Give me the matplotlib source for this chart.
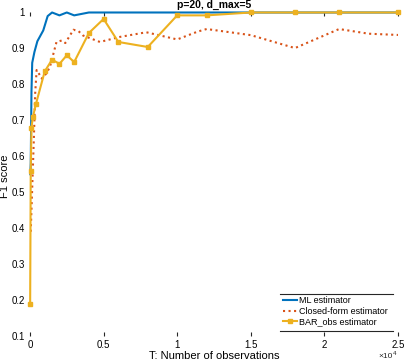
import matplotlib
matplotlib.use("Agg")
import matplotlib.pyplot as plt
from matplotlib.lines import Line2D

plt.rcParams['font.family'] = ['Liberation Sans', 'DejaVu Sans']

# ML estimator
t_ml = [20, 50, 80, 100, 150, 300, 500, 900, 1200, 1500, 2000, 2500, 3000,
        4000, 5000, 10000, 15000, 20000, 25000]
f1_ml = [0.55, 0.58, 0.70, 0.78, 0.86, 0.89, 0.92, 0.95, 0.99, 1.0, 0.992,
         1.0, 0.992, 1.0, 1.0, 1.0, 1.0, 1.0, 1.0]

# Closed-form estimator
t_cf = [50, 250, 300, 350, 450, 550, 800, 1100, 1350, 1800, 2150, 2400, 2950,
        3300, 3600, 4750, 6100, 7900, 10000, 11400, 12000, 15000, 18000,
        21000, 23000, 25000]
f1_cf = [0.39, 0.635, 0.70, 0.774, 0.84, 0.834, 0.816, 0.83, 0.848, 0.918,
         0.922, 0.915, 0.952, 0.948, 0.936, 0.918, 0.932, 0.945, 0.925,
         0.947, 0.954, 0.937, 0.901, 0.954, 0.941, 0.9375]

# BAR_obs estimator
t_bar = [10, 50, 100, 200, 400, 1000, 1500, 2000, 2500, 3000, 4000, 5000,
         6000, 8000, 10000, 12000, 15000, 18000, 21000, 25000]
f1_bar = [0.19, 0.56, 0.68, 0.71, 0.745, 0.836, 0.869, 0.857, 0.881, 0.862,
          0.943, 0.982, 0.918, 0.904, 0.992, 0.992, 1.0, 1.0, 1.0, 1.0]

blue = '#0072BD'
red = '#D95319'
yellow = '#EDB120'

fig = plt.figure(figsize=(4.06, 3.62), dpi=100)
ax = fig.add_axes([0.0739, 0.0718, 0.9064, 0.8937])

ax.plot(t_ml, f1_ml, color=blue, lw=1.5, label='ML estimator', clip_on=False)
ax.plot(t_cf, f1_cf, color=red, lw=1.5, ls=':', label='Closed-form estimator')
ax.plot(t_bar, f1_bar, color=yellow, lw=1.5, marker='s', ms=3,
        label='BAR_obs estimator', clip_on=False)

ax.set_xlim(0, 25000)
ax.set_ylim(0.1, 1)
ax.set_xticks([0, 5000, 10000, 15000, 20000, 25000])
ax.set_xticklabels(['0', '0.5', '1', '1.5', '2', '2.5'])
ax.set_yticks([0.1, 0.2, 0.3, 0.4, 0.5, 0.6, 0.7, 0.8, 0.9, 1])
ax.set_yticklabels(['0.1', '0.2', '0.3', '0.4', '0.5', '0.6', '0.7', '0.8', '0.9', '1'])
for s in ax.spines.values():
    s.set_visible(False)
ax.tick_params(axis='x', direction='in', top=True, bottom=True, length=3,
               width=0.8, color='#262626', labelsize=7, pad=3)
ax.tick_params(axis='y', length=0, labelsize=7, pad=3.5)

ax.set_title('p=20, d_max=5', fontsize=7.5, fontweight='bold', pad=3)
ax.set_xlabel('T: Number of observations', fontsize=8)
ax.xaxis.set_label_coords(0.5, -0.046)
ax.set_ylabel('F1 score', fontsize=8)
ax.yaxis.set_label_coords(-0.053, 0.495)
# exponent marker below the last tick label
ax.text(0.985, -0.074, '×10', transform=ax.transAxes, fontsize=6,
        ha='right', va='bottom', color='#262626')
ax.text(0.986, -0.062, '4', transform=ax.transAxes, fontsize=4.5,
        ha='left', va='bottom', color='#262626')

leg = ax.legend(loc='upper left', bbox_to_anchor=(0.6875, 0.1236), frameon=False,
                fontsize=6.5, handlelength=1.55, handletextpad=0.22,
                labelspacing=0.2, borderpad=0, borderaxespad=0)
for y in (0.129, 0.016):
    ax.add_line(Line2D([0.679, 0.986], [y, y], transform=ax.transAxes,
                       color='#262626', lw=0.8))

fig.savefig('out.png', dpi=100)
